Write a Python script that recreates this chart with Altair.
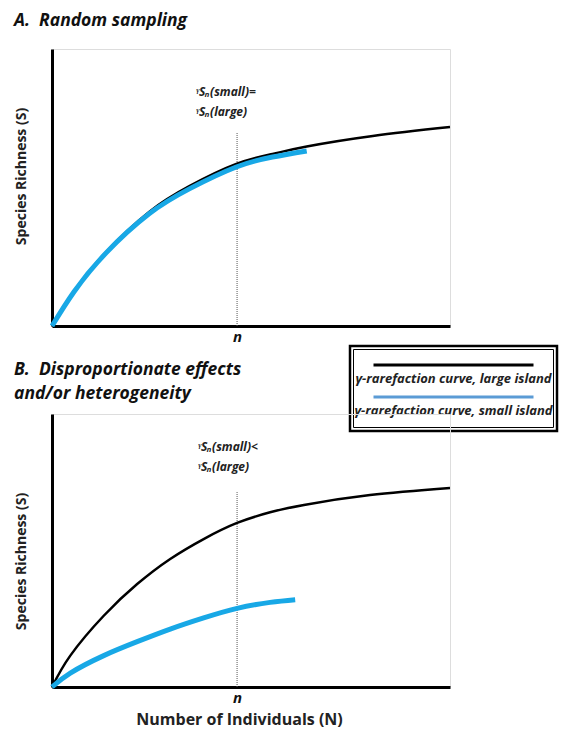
import altair as alt
import pandas as pd

FONT = "Open Sans"
BLUE = "#18a8e6"
LEGEND_BLUE = "#5b9bd5"

# ---- data (x: individuals 0-100, y: species richness 0-100)
n_value = 46.5

a_large_x = [0, 5.5, 13.6, 24.4, 34.5, 46.3, 55.4, 64.0, 80.6, 100]
a_large_y = [0, 12.5, 26.7, 41.2, 50.5, 58.5, 62.1, 64.8, 68.6, 71.8]
a_small_x = [0, 5.5, 13.6, 24.4, 34.5, 46.3, 55.4, 64.0]
a_small_y = [0, 12.3, 26.4, 40.5, 49.5, 57.4, 61.0, 63.2]
a_rule_top = 70

b_large_x = [0, 4.6, 13.0, 21.4, 29.7, 38.1, 46.5, 54.8, 63.3, 79.9, 100]
b_large_y = [0, 11.5, 26.1, 37.7, 46.9, 54.2, 60.1, 64.0, 66.7, 70.3, 72.9]
b_small_x = [0, 4.6, 13.0, 21.4, 29.7, 38.1, 46.5, 54.8, 61.1]
b_small_y = [0, 5.1, 11.5, 16.6, 21.2, 25.3, 28.8, 31.0, 32.0]
b_rule_top = 71.4

series_names = ["γ-rarefaction curve, large island", "γ-rarefaction curve, small island"]
series_colors = ["black", LEGEND_BLUE]
a_annotation = ["ᵞSₙ(small)=", "ᵞSₙ(large)"]
b_annotation = ["ᵞSₙ(small)<", "ᵞSₙ(large)"]
a_title = "A.\u00a0\u00a0Random sampling"
b_title = ["B.\u00a0\u00a0Disproportionate effects", "and/or heterogeneity"]
y_title = "Species Richness (S)"
x_title = "Number of Individuals (N)"

W = 398


def panel(lx, ly, sx, sy, rule_top, ann, y_title_y, with_x_title, ann_pos):
    large = pd.DataFrame({"N": lx, "S": ly})
    small = pd.DataFrame({"N": sx, "S": sy})
    rule = pd.DataFrame({"N": [n_value], "S0": [0], "S1": [rule_top]})
    xs = alt.Scale(domain=[0, 100], nice=False, zero=True)
    ys = alt.Scale(domain=[0, 100], nice=False, zero=True)
    xaxis_kw = dict(values=[n_value], labelExpr="'n'", ticks=False, grid=False,
                    domainColor="black", domainWidth=3, labelFont=FONT, labelFontSize=15,
                    labelFontStyle="italic", labelFontWeight="bold", labelColor="#111",
                    labelPadding=3)
    if with_x_title:
        xaxis_kw.update(title=x_title, titleFont=FONT, titleFontSize=16, titleFontWeight="bold",
                        titleColor="#222", titlePadding=6, titleX=187)
        xenc = alt.X("N:Q", scale=xs, axis=alt.Axis(**xaxis_kw))
    else:
        xenc = alt.X("N:Q", scale=xs, axis=alt.Axis(**xaxis_kw), title=None)
    yaxis = alt.Axis(labels=False, ticks=False, grid=False, domainColor="black", domainWidth=3,
                     title=y_title, titleFont=FONT, titleFontSize=14, titleFontWeight="bold",
                     titleColor="#222", titlePadding=24, titleY=y_title_y)
    base_large = alt.Chart(large).mark_line(color="black", strokeWidth=2.5, interpolate="natural").encode(
        x=xenc, y=alt.Y("S:Q", scale=ys, axis=yaxis))
    base_small = alt.Chart(small).mark_line(color=BLUE, strokeWidth=5, interpolate="natural").encode(
        x=alt.X("N:Q", scale=xs), y=alt.Y("S:Q", scale=ys))
    r = alt.Chart(rule).mark_rule(color="#555", strokeWidth=1, strokeDash=[1, 1]).encode(
        x=alt.X("N:Q", scale=xs), y=alt.Y("S0:Q", scale=ys), y2="S1:Q")
    t = alt.Chart(rule).mark_text(align="left", baseline="middle", font=FONT, fontSize=12,
                                  fontStyle="italic", fontWeight="bold", color="#222",
                                  lineHeight=20).encode(
        x=alt.value(ann_pos[0]), y=alt.value(ann_pos[1]), text=alt.value(ann))
    return [r, base_large, base_small, t]


a_layers = panel(a_large_x, a_large_y, a_small_x, a_small_y, a_rule_top, a_annotation,
                 127, False, (144, 43))
b_layers = panel(b_large_x, b_large_y, b_small_x, b_small_y, b_rule_top, b_annotation,
                 147, True, (146, 33))

# ---- legend box (drawn in panel A's frame, below its plot area)
leg_df = pd.DataFrame({"name": series_names[:1]})
LX0, LY0, LX1, LY1 = 298, 297, 505, 382
LC = (LX0 + LX1) / 2
legend = [
    alt.Chart(leg_df).mark_rect(fill="white", stroke="black", strokeWidth=2.5).encode(
        x=alt.value(LX0), x2=alt.value(LX1), y=alt.value(LY0), y2=alt.value(LY1)),
    alt.Chart(leg_df).mark_rect(fill="none", stroke="black", strokeWidth=1).encode(
        x=alt.value(LX0 + 3.5), x2=alt.value(LX1 - 3.5), y=alt.value(LY0 + 3.5), y2=alt.value(LY1 - 3.5)),
]
for i, (name, col) in enumerate(zip(series_names, series_colors)):
    ly = 316 + 32 * i
    legend.append(alt.Chart(leg_df).mark_rect(fill=col, strokeWidth=0).encode(
        x=alt.value(LC - 80), x2=alt.value(LC + 80), y=alt.value(ly - 1.5), y2=alt.value(ly + 1.5)))
    legend.append(alt.Chart(leg_df).mark_text(align="center", baseline="middle", font=FONT,
                                              fontSize=13, fontStyle="italic", fontWeight="bold",
                                              color="#222").encode(
        x=alt.value(LC), y=alt.value(ly + 14), text=alt.value(name)))

chart_a = alt.layer(*a_layers, *legend).properties(
    width=W, height=277,
    title=alt.TitleParams(text=a_title, offset=20, anchor="start", font=FONT, fontSize=17.5,
                          fontStyle="italic", fontWeight="bold", color="#111"))
chart_b = alt.layer(*b_layers).properties(
    width=W, height=273,
    title=alt.TitleParams(text=b_title, offset=12, anchor="start", font=FONT, fontSize=17.5,
                          fontStyle="italic", fontWeight="bold", color="#111", lineHeight=24))

chart = alt.vconcat(chart_a, chart_b, spacing=88, bounds="flush").properties(
    padding={"left": 5, "top": 3, "right": 0, "bottom": 0}
).configure_view(strokeWidth=0).configure(background="white")

chart.save("out.html", embed_options={"renderer": "svg", "actions": False})
